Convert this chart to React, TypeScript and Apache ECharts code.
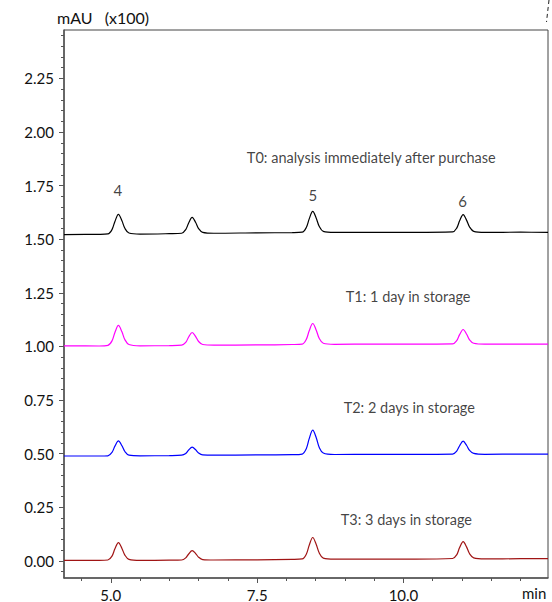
import React, { useEffect, useRef } from "react";
import * as echarts from "echarts";

// retention time (min)
const times = [
  4.2, 4.8, 4.95, 5.02, 5.07, 5.13, 5.19, 5.24, 5.31, 5.5,
  6.0, 6.21, 6.28, 6.33, 6.39, 6.45, 6.5, 6.57, 6.76,
  7.5, 8.1, 8.27, 8.34, 8.39, 8.45, 8.51, 8.56, 8.63, 8.82,
  9.5, 10.2, 10.84, 10.91, 10.96, 11.02, 11.08, 11.13, 11.2, 11.39, 12.0, 12.47,
];

// absorbance, mAU (x100)
const t0Values = [
  1.522, 1.523, 1.525, 1.545, 1.583, 1.616, 1.586, 1.551, 1.529, 1.524,
  1.526, 1.528, 1.545, 1.576, 1.602, 1.578, 1.55, 1.532, 1.528,
  1.53, 1.531, 1.533, 1.555, 1.595, 1.63, 1.598, 1.561, 1.537, 1.532,
  1.532, 1.532, 1.534, 1.552, 1.586, 1.615, 1.588, 1.557, 1.537, 1.532, 1.533, 1.532,
];
const t1Values = [
  1.003, 1.002, 1.005, 1.026, 1.065, 1.098, 1.068, 1.032, 1.009, 1.003,
  1.004, 1.006, 1.019, 1.044, 1.065, 1.046, 1.023, 1.009, 1.006,
  1.007, 1.009, 1.011, 1.033, 1.073, 1.107, 1.076, 1.038, 1.015, 1.01,
  1.011, 1.011, 1.012, 1.027, 1.055, 1.079, 1.057, 1.031, 1.015, 1.011, 1.011, 1.011,
];
const t2Values = [
  0.489, 0.489, 0.49, 0.506, 0.535, 0.56, 0.537, 0.51, 0.493, 0.49,
  0.491, 0.493, 0.501, 0.517, 0.53, 0.518, 0.503, 0.494, 0.493,
  0.494, 0.495, 0.498, 0.523, 0.57, 0.61, 0.574, 0.53, 0.503, 0.496,
  0.497, 0.497, 0.498, 0.512, 0.537, 0.558, 0.538, 0.515, 0.501, 0.497, 0.498, 0.498,
];
const t3Values = [
  0.002, 0.002, 0.004, 0.022, 0.056, 0.085, 0.058, 0.027, 0.007, 0.002,
  0.003, 0.004, 0.014, 0.032, 0.048, 0.034, 0.017, 0.006, 0.004,
  0.005, 0.007, 0.009, 0.031, 0.073, 0.109, 0.076, 0.038, 0.013, 0.008,
  0.008, 0.008, 0.011, 0.028, 0.062, 0.09, 0.064, 0.033, 0.014, 0.009, 0.01, 0.01,
];

const seriesNames = ["T0", "T1", "T2", "T3"];
const seriesColors = ["#000000", "#ff00ff", "#0000ff", "#a01414"];

const annotationTexts = [
  "T0: analysis immediately after purchase",
  "T1: 1 day in storage",
  "T2: 2 days in storage",
  "T3: 3 days in storage",
];
const annotationX = [9.45, 10.08, 10.1, 10.05];
const annotationY = [1.882, 1.234, 0.717, 0.191];

const peakLabels = ["4", "5", "6"];
const peakLabelX = [5.12, 8.45, 11.01];
const peakLabelY = [1.728, 1.705, 1.678];

const xTickValues = [5.0, 7.5, 10.0];
const yTickValues = [0, 0.25, 0.5, 0.75, 1.0, 1.25, 1.5, 1.75, 2.0, 2.25];

const X_MIN = 4.2;
const X_MAX = 12.47;
const Y_MIN = -0.08;
const Y_MAX = 2.476;

const FONT = "Lato";

const xMinorTicks: number[] = [];
for (let v = 4.5; v <= 12.3; v += 0.5) xMinorTicks.push(Math.round(v * 100) / 100);
const yMinorTicks: number[] = [];
for (let v = -0.05; v <= 2.46; v += 0.05) yMinorTicks.push(Math.round(v * 100) / 100);

export default function App() {
  const ref = useRef<HTMLDivElement>(null);
  useEffect(() => {
    const chart = echarts.init(ref.current!, null, { renderer: "svg" });
    const traces = [t0Values, t1Values, t2Values, t3Values];
    const axisColor = "#555";
    const option: any = {
      animation: false,
      backgroundColor: "#ffffff",
      grid: {
        left: 64,
        right: 4,
        top: 30,
        bottom: 24,
        show: true,
        borderColor: "#444",
        borderWidth: 1,
      },
      xAxis: [
        {
          type: "value",
          min: X_MIN,
          max: X_MAX,
          position: "bottom",
          splitLine: { show: false },
          axisLine: { show: true, onZero: false, lineStyle: { color: axisColor, width: 1.5 } },
          axisTick: { show: true, customValues: xTickValues, length: 5, lineStyle: { color: axisColor } },
          axisLabel: {
            customValues: xTickValues,
            formatter: (v: number) => v.toFixed(1),
            fontSize: 15,
            color: "#111",
            fontFamily: FONT,
            margin: 9,
          },
        },
        {
          type: "value",
          min: X_MIN,
          max: X_MAX,
          position: "bottom",
          splitLine: { show: false },
          axisLine: { show: false, onZero: false },
          axisTick: { show: true, customValues: xMinorTicks, length: 3, lineStyle: { color: axisColor } },
          axisLabel: { show: false },
        },
      ],
      yAxis: [
        {
          type: "value",
          min: Y_MIN,
          max: Y_MAX,
          position: "left",
          splitLine: { show: false },
          axisLine: { show: true, onZero: false, lineStyle: { color: axisColor, width: 1.5 } },
          axisTick: { show: true, customValues: yTickValues, length: 5, lineStyle: { color: axisColor } },
          axisLabel: {
            customValues: yTickValues,
            formatter: (v: number) => v.toFixed(2),
            fontSize: 15,
            color: "#111",
            fontFamily: FONT,
            margin: 10,
          },
        },
        {
          type: "value",
          min: Y_MIN,
          max: Y_MAX,
          position: "left",
          splitLine: { show: false },
          axisLine: { show: false, onZero: false },
          axisTick: { show: true, customValues: yMinorTicks, length: 3, lineStyle: { color: axisColor } },
          axisLabel: { show: false },
        },
      ],
      series: [
        ...traces.map((vals, i) => ({
          name: seriesNames[i],
          type: "line",
          xAxisIndex: 0,
          yAxisIndex: 0,
          data: times.map((t, j) => [t, vals[j]]),
          showSymbol: false,
          smooth: 0.35,
          lineStyle: { color: seriesColors[i], width: 1.2 },
          itemStyle: { color: seriesColors[i] },
          z: 3,
        })),
        {
          name: "annotations",
          type: "scatter",
          xAxisIndex: 0,
          yAxisIndex: 0,
          symbolSize: 1,
          itemStyle: { color: "rgba(0,0,0,0)" },
          data: annotationTexts.map((s, i) => ({ name: s, value: [annotationX[i], annotationY[i]] })),
          label: {
            show: true,
            position: "inside",
            formatter: "{b}",
            fontSize: 14.5,
            color: "#111",
            fontFamily: FONT,
          },
          z: 4,
        },
        {
          name: "peaks",
          type: "scatter",
          xAxisIndex: 0,
          yAxisIndex: 0,
          symbolSize: 1,
          itemStyle: { color: "rgba(0,0,0,0)" },
          data: peakLabels.map((s, i) => ({ name: s, value: [peakLabelX[i], peakLabelY[i]] })),
          label: {
            show: true,
            position: "inside",
            formatter: "{b}",
            fontSize: 15,
            color: "#111",
            fontFamily: FONT,
          },
          z: 4,
        },
      ],
      graphic: [
        {
          type: "text",
          left: 57,
          top: 9,
          style: { text: "mAU\u00a0\u00a0\u00a0(x100)", fontSize: 16, fill: "#111", fontFamily: FONT },
        },
        {
          type: "text",
          left: 522,
          top: 585,
          style: { text: "min", fontSize: 15, fill: "#111", fontFamily: FONT },
        },
        {
          type: "line",
          shape: { x1: 549, y1: 0, x2: 546.5, y2: 22 },
          style: { stroke: "#222", lineWidth: 1, lineDash: [4, 3] },
        },
      ],
    };
    chart.setOption(option);
    return () => chart.dispose();
  }, []);
  return (
    <div
      ref={ref}
      style={{ position: "fixed", left: 0, top: 0, width: 552, height: 602 }}
    />
  );
}
